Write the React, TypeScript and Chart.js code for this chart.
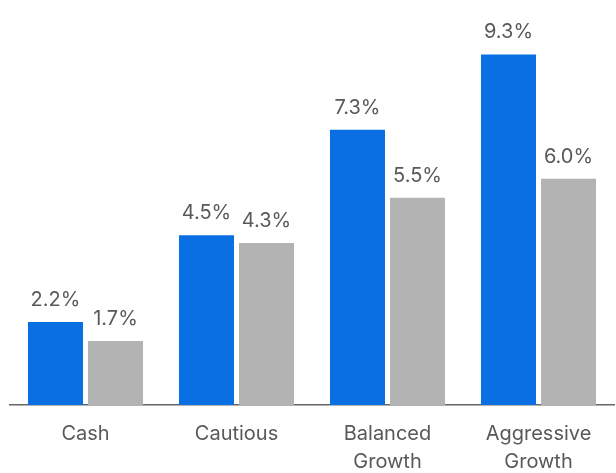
import React, { useEffect, useRef } from "react";
import { Chart, registerables } from "chart.js";

Chart.register(...registerables);

const categories: string[][] = [["Cash"], ["Cautious"], ["Balanced", "Growth"], ["Aggressive", "Growth"]];
const seriesBlue: number[] = [2.2, 4.5, 7.3, 9.3];
const seriesGray: number[] = [1.7, 4.3, 5.5, 6.0];

const labelPlugin = {
  id: "valueLabels",
  afterDatasetsDraw(chart: any) {
    const ctx = chart.ctx;
    ctx.save();
    ctx.font = '20px Inter, "Liberation Sans", sans-serif';
    ctx.fillStyle = "#595959";
    ctx.textAlign = "center";
    ctx.textBaseline = "bottom";
    chart.data.datasets.forEach((ds: any, di: number) => {
      const meta = chart.getDatasetMeta(di);
      meta.data.forEach((bar: any, i: number) => {
        const v = ds.data[i] as number;
        ctx.fillText(v.toFixed(1) + "%", bar.x, bar.y - 12);
      });
    });
    ctx.restore();
  },
};

export default function App() {
  const ref = useRef<HTMLCanvasElement>(null);
  useEffect(() => {
    document.body.style.margin = "0";
    const chart = new Chart(ref.current!, {
      type: "bar",
      data: {
        labels: categories,
        datasets: [
          { data: seriesBlue, backgroundColor: "#0A6FE2", barPercentage: 0.9167, categoryPercentage: 0.795 },
          { data: seriesGray, backgroundColor: "#B3B3B3", barPercentage: 0.9167, categoryPercentage: 0.795 },
        ],
      },
      options: {
        animation: false,
        responsive: false,
        maintainAspectRatio: false,
        layout: { padding: { left: 10, right: 2, top: 28, bottom: 0 } },
        plugins: { legend: { display: false }, tooltip: { enabled: false } },
        scales: {
          x: {
            grid: { display: false, drawTicks: false },
            border: { display: true, color: "#666666", width: 1.5 },
            ticks: {
              color: "#595959",
              font: { family: 'Inter, "Liberation Sans", sans-serif', size: 20, lineHeight: 1.4 },
              padding: 15,
              maxRotation: 0,
              autoSkip: false,
            },
          },
          y: { display: false, min: 0, max: 10 },
        },
      },
      plugins: [labelPlugin],
    });
    return () => chart.destroy();
  }, []);
  return (
    <div style={{ position: "absolute", left: 0, top: 0, width: 616, height: 473, overflow: "hidden" }}>
      <canvas ref={ref} width={616} height={491} style={{ width: 616, height: 491, display: "block" }} />
    </div>
  );
}
